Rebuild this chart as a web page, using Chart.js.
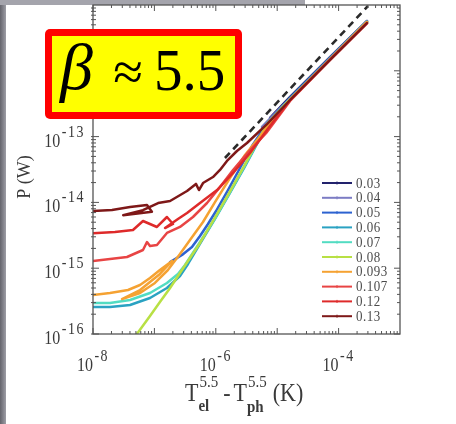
<!DOCTYPE html>
<html><head><meta charset="utf-8">
<script src="https://cdn.jsdelivr.net/npm/chart.js@4.4.1/dist/chart.umd.min.js"></script>
<style>html,body{margin:0;padding:0;background:#fff;}#wrap{width:456px;height:424px;position:relative;}</style>
</head><body><div id="wrap"><canvas id="c" width="456" height="424"></canvas></div>
<script>
// ---- data (x = Tel^5.5 - Tph^5.5 in K, y = P in W) ----
const seriesLabels = ['0.03','0.04','0.05','0.06','0.07','0.08','0.093','0.107','0.12','0.13'];
const seriesColors = ['#22226c','#7c7cc4','#2c62d0','#2aa2c2','#52dcc2','#b8e044','#f5a232','#e84444','#de2a2a','#7e1818'];

const s003 = [[7.64e-6,1.92e-13],[1.62e-5,4.00e-13],[7.24e-5,1.62e-12],[2.90e-4,5.72e-12]];
const s004 = [[5.65e-6,1.40e-13],[1.62e-5,3.86e-13],[7.24e-5,1.57e-12],[2.90e-4,5.72e-12]];
const s005 = [[1.80e-7,1.24e-15],[2.82e-7,1.59e-15],[4.09e-7,2.10e-15],[5.53e-7,3.09e-15],[7.46e-7,4.70e-15],[1.01e-6,7.40e-15],[1.58e-6,1.54e-14],[2.48e-6,3.33e-14],[3.89e-6,7.20e-14],[5.25e-6,1.10e-13],[6.82e-6,1.55e-13],[1.62e-5,3.86e-13],[7.24e-5,1.57e-12],[2.90e-4,5.62e-12]];
const s006 = [[1.0e-8,2.57e-16],[1.89e-8,2.57e-16],[4.01e-8,2.76e-16],[8.48e-8,3.52e-16],[1.60e-7,5.00e-16],[2.61e-7,7.61e-16],[3.53e-7,1.16e-15],[5.74e-7,2.50e-15],[9.70e-7,5.60e-15],[1.70e-6,1.39e-14],[2.88e-6,3.33e-14],[4.69e-6,7.73e-14],[6.82e-6,1.55e-13],[1.62e-5,3.72e-13],[7.24e-5,1.51e-12],[2.90e-4,5.52e-12]];
const s007 = [[1.0e-8,2.96e-16],[1.89e-8,2.96e-16],[4.01e-8,3.29e-16],[8.48e-8,4.20e-16],[1.60e-7,5.96e-16],[2.42e-7,8.18e-16],[3.15e-7,1.12e-15],[5.53e-7,2.50e-15],[9.35e-7,5.40e-15],[1.64e-6,1.34e-14],[2.77e-6,3.22e-14],[4.52e-6,7.45e-14],[6.82e-6,1.55e-13],[1.62e-5,3.72e-13],[7.24e-5,1.51e-12],[2.90e-4,5.52e-12]];
const s008 = [[4.65e-8,8.7e-17],[8.48e-8,1.88e-16],[1.23e-7,3.06e-16],[1.80e-7,5.00e-16],[2.61e-7,8.45e-16],[3.80e-7,1.43e-15],[5.53e-7,2.42e-15],[9.00e-7,5.22e-15],[1.58e-6,1.30e-14],[2.67e-6,3.11e-14],[4.35e-6,7.20e-14],[6.82e-6,1.55e-13],[1.62e-5,3.72e-13],[7.24e-5,1.51e-12],[2.90e-4,5.52e-12]];
const s0093 = [[1.0e-8,3.92e-16],[1.89e-8,4.20e-16],[3.72e-8,4.66e-16],[5.83e-8,5.56e-16],[8.48e-8,7.10e-16],[1.23e-7,9.39e-16],[1.94e-7,1.29e-15],[1.23e-7,8.18e-16],[5.83e-8,4.66e-16],[2.97e-8,3.40e-16],[5.83e-8,4.20e-16],[1.02e-7,5.96e-16],[1.66e-7,9.39e-16],[2.61e-7,1.64e-15],[3.80e-7,2.69e-15],[6.19e-7,5.04e-15],[9.70e-7,1.01e-14],[1.70e-6,2.35e-14],[2.99e-6,5.25e-14],[4.69e-6,8.88e-14],[6.82e-6,1.40e-13],[1.62e-5,3.60e-13],[7.24e-5,1.51e-12],[2.90e-4,5.52e-12]];
const s0107 = [[1.0e-8,1.29e-15],[3.58e-8,1.48e-15],[6.52e-8,1.89e-15],[7.57e-8,2.50e-15],[8.48e-8,2.17e-15],[1.10e-7,2.25e-15],[1.60e-7,3.43e-15],[2.61e-7,4.23e-15],[4.25e-7,6.00e-15],[7.19e-7,9.79e-15],[1.17e-6,1.71e-14],[1.91e-6,3.11e-14],[3.61e-6,6.25e-14],[6.82e-6,1.17e-13],[1.62e-5,3.48e-13],[7.24e-5,1.46e-12],[2.90e-4,5.32e-12]];
const s012 = [[1.0e-8,3.40e-15],[2.28e-8,3.55e-15],[4.48e-8,3.81e-15],[6.52e-8,5.22e-15],[1.10e-7,4.23e-15],[1.60e-7,6.00e-15],[2.01e-7,4.70e-15],[1.49e-7,4.08e-15],[2.42e-7,5.60e-15],[3.40e-7,6.90e-15],[5.53e-7,9.79e-15],[1.05e-6,1.54e-14],[1.91e-6,2.80e-14],[3.61e-6,5.63e-14],[6.82e-6,1.26e-13],[1.62e-5,3.60e-13],[7.24e-5,1.46e-12],[2.90e-4,5.32e-12]];
const s013 = [[1.0e-8,7.40e-15],[2.04e-8,7.66e-15],[4.01e-8,8.51e-15],[7.57e-8,9.13e-15],[9.1e-8,7.2e-15],[3.1e-8,6.4e-15],[6.5e-8,7.6e-15],[1.15e-7,9.79e-15],[1.80e-7,1.05e-14],[3.40e-7,1.49e-14],[4.75e-7,1.91e-14],[5.32e-7,1.54e-14],[6.19e-7,1.97e-14],[9.00e-7,2.43e-14],[1.17e-6,3.11e-14],[1.52e-6,4.26e-14],[2.21e-6,6.04e-14],[3.22e-6,8.00e-14],[6.82e-6,1.55e-13],[1.62e-5,3.60e-13],[7.24e-5,1.46e-12],[2.90e-4,5.32e-12]];
const seriesData = [s003,s004,s005,s006,s007,s008,s0093,s0107,s012,s013];

const fitLine = [[1.41e-6,4.73e-14],[3.01e-4,9.66e-12]];   // dashed P ~ dT^5.5 guide

const xTicks = [1e-8,1e-6,1e-4];
const xTickLabels = ['10^-8','10^-6','10^-4'];
const yTicks = [1e-16,1e-15,1e-14,1e-13,1e-12];
const yTickLabels = ['10^-16','10^-15','10^-14','10^-13','10^-12'];
const xRange = [1e-8,1e-3];
const yRange = [1e-16,1e-11];
const boxText = ['\u03B2','\u2248','5.5'];

// ---- drawing helpers ----
const SERIF = '"Liberation Serif","Times New Roman",serif';
const SY = 1.18;
function txt(ctx, s, x, y, font, align, sy, ls){
  ctx.save(); ctx.font = font; ctx.textAlign = align || 'left'; ctx.textBaseline='alphabetic';
  if (ls) ctx.letterSpacing = ls + 'px';
  ctx.translate(x, y); ctx.scale(1, sy || 1); ctx.fillText(s, 0, 0); ctx.restore();
}
function wid(ctx, s, font, ls){ ctx.save(); ctx.font = font; if (ls) ctx.letterSpacing = ls + 'px'; const w = ctx.measureText(s).width; ctx.restore(); return w; }
function supLabel(ctx, label, x, y, align){
  const p = label.split('^');
  const bf = '16px ' + SERIF, sf = '14px ' + SERIF;
  const wb = wid(ctx, p[0], bf), ws = wid(ctx, p[1], sf, 1.5) + 1.5;
  let sx = x;
  if (align === 'center') sx = x - (wb + ws) / 2;
  if (align === 'right') sx = x - (wb + ws);
  txt(ctx, p[0], sx, y, bf, 'left', SY);
  txt(ctx, p[1], sx + wb + 1.5, y - 10, sf, 'left', SY, 1.5);
}

const deco = {
  id: 'deco',
  beforeDraw(chart){
    const c = chart.ctx;
    c.save();
    c.fillStyle = '#fff'; c.fillRect(0, 0, chart.width, chart.height);
    const g = c.createLinearGradient(0, 0, 7, 0);
    g.addColorStop(0, '#64646c'); g.addColorStop(1, '#a8a8b0');
    c.fillStyle = g; c.fillRect(0, 0, 6, chart.height);
    c.fillStyle = '#a4a4ac'; c.fillRect(0, 0, 305, 5);
    c.restore();
  },
  afterDraw(chart){
    const c = chart.ctx, a = chart.chartArea;
    const xs = chart.scales.x, ys = chart.scales.y;
    c.save();
    // frame
    c.strokeStyle = '#555'; c.lineWidth = 1.3;
    c.strokeRect(a.left, a.top, a.right - a.left, a.bottom - a.top);
    // inward ticks
    c.lineWidth = 1;
    c.beginPath();
    for (let e = -8; e <= -4; e++) for (let m = 1; m <= 9; m++) {
      const v = m * Math.pow(10, e); if (v > xRange[1]) continue;
      const px = xs.getPixelForValue(v), L = m === 1 ? 6 : 3;
      c.moveTo(px, a.bottom); c.lineTo(px, a.bottom - L);
      c.moveTo(px, a.top); c.lineTo(px, a.top + L);
    }
    for (let e = -16; e <= -12; e++) for (let m = 1; m <= 9; m++) {
      const v = m * Math.pow(10, e); if (v > yRange[1]) continue;
      const py = ys.getPixelForValue(v), L = m === 1 ? 6 : 3;
      c.moveTo(a.left - 2, py); c.lineTo(a.left + L, py);
      c.moveTo(a.right, py); c.lineTo(a.right - L, py);
    }
    c.stroke();
    // tick labels
    c.fillStyle = '#3a3a3a';
    xTicks.forEach((v, i) => supLabel(c, xTickLabels[i], xs.getPixelForValue(v), a.bottom + 37, 'center'));
    yTicks.forEach((v, i) => supLabel(c, yTickLabels[i], a.left - 8, ys.getPixelForValue(v) + 10, 'right'));
    // y title
    c.save(); c.translate(25, 177); c.rotate(-Math.PI / 2);
    c.font = '18px ' + SERIF; c.textAlign = 'center'; c.textBaseline = 'middle';
    c.fillText('P (W)', 0, 0); c.restore();
    // x title: T_el^5.5 - T_ph^5.5 (K)
    const mf = '22px ' + SERIF, sf = '15px ' + SERIF, bf = 'bold 15px ' + SERIF;
    let x = 185; const base = 401;
    txt(c, 'T', x, base, mf, 'left', SY); x += wid(c, 'T', mf);
    txt(c, '5.5', x + 1, base - 14, sf, 'left', SY); txt(c, 'el', x, base + 10, bf, 'left', SY);
    x += Math.max(wid(c, '5.5', sf), wid(c, 'el', bf)) + 6;
    txt(c, '-', x, base, mf, 'left', SY); x += wid(c, '-', mf) + 3;
    txt(c, 'T', x, base, mf, 'left', SY); x += wid(c, 'T', mf);
    txt(c, '5.5', x + 1, base - 14, sf, 'left', SY); txt(c, 'ph', x, base + 11, bf, 'left', SY);
    x += Math.max(wid(c, '5.5', sf), wid(c, 'ph', bf)) + 7;
    txt(c, '(K)', x, base, mf, 'left', SY);
    // legend
    seriesLabels.forEach((lab, i) => {
      const y = 183 + i * 14.8;
      c.strokeStyle = seriesColors[i]; c.lineWidth = 2;
      c.beginPath(); c.moveTo(322, y); c.lineTo(352, y); c.stroke();
      c.lineWidth = 1; c.beginPath(); c.moveTo(337, y - 1.5); c.lineTo(337, y + 1.5); c.stroke();
      c.fillStyle = '#4a4a4a';
      txt(c, lab, 356, y + 4.5, '13px ' + SERIF, 'left', 1.1, 0.5);
    });
    // beta box
    c.fillStyle = '#ff0000';
    c.beginPath(); c.roundRect(45, 29, 197, 90, 5); c.fill();
    c.fillStyle = '#ffff00'; c.fillRect(52, 36, 183, 76);
    c.fillStyle = '#000';
    txt(c, boxText[0], 60, 89, 'italic 66px ' + SERIF, 'left', 1);
    txt(c, boxText[1], 128, 90, '54px ' + SERIF, 'center', 1);
    txt(c, boxText[2], 154, 90, '57px ' + SERIF, 'left', 1.05);
    c.restore();
  }
};

const datasets = seriesData.map((d, i) => ({
  label: seriesLabels[i],
  data: d.map(p => ({x: p[0], y: p[1]})),
  borderColor: seriesColors[i],
  backgroundColor: seriesColors[i],
  borderWidth: 2.5,
  borderJoinStyle: 'round', borderCapStyle: 'round',
  showLine: true, pointRadius: 0, tension: 0,
  order: 9 - i
}));
datasets.push({
  label: 'fit', data: fitLine.map(p => ({x: p[0], y: p[1]})),
  borderColor: '#2a2a2a', borderWidth: 2.6, borderDash: [7, 5],
  showLine: true, pointRadius: 0, order: -1
});

new Chart(document.getElementById('c'), {
  type: 'scatter',
  data: { datasets },
  options: {
    responsive: false, animation: false, devicePixelRatio: 1,
    layout: { padding: { left: 0, top: 5, right: 56, bottom: 0 } },
    plugins: { legend: { display: false }, tooltip: { enabled: false } },
    scales: {
      x: { type: 'logarithmic', min: xRange[0], max: xRange[1],
           ticks: { display: false }, grid: { display: false }, border: { display: false },
           afterFit(s){ s.height = 90; } },
      y: { type: 'logarithmic', min: yRange[0], max: yRange[1],
           ticks: { display: false }, grid: { display: false }, border: { display: false },
           afterFit(s){ s.width = 93; } }
    }
  },
  plugins: [deco]
});
</script></body></html>
